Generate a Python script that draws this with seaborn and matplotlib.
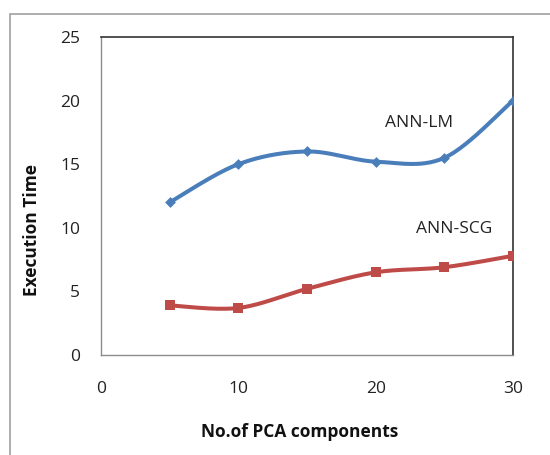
import numpy as np
import pandas as pd
import matplotlib
matplotlib.use("Agg")
import matplotlib.pyplot as plt
import seaborn as sns
from matplotlib.patches import Rectangle

sns.set_style("white")
plt.rcParams['font.family'] = ['Open Sans', 'DejaVu Sans']

components = [5, 10, 15, 20, 25, 30]
ann_lm = [12.0, 15.0, 16.0, 15.2, 15.5, 20.0]
ann_scg = [3.9, 3.7, 5.2, 6.5, 6.9, 7.8]
series_names = ["ANN-LM", "ANN-SCG"]
colors = ["#4A7EBB", "#BE4B48"]
x_ticks = [0, 10, 20, 30]
y_ticks = [0, 5, 10, 15, 20, 25]

df = pd.DataFrame({
    "components": components * 2,
    "time": ann_lm + ann_scg,
    "series": [series_names[0]] * len(components) + [series_names[1]] * len(components),
})


def smooth(xs, ys, n=30):
    xs = np.asarray(xs, float)
    ys = np.asarray(ys, float)
    px = np.concatenate([[xs[0]], xs, [xs[-1]]])
    py = np.concatenate([[ys[0]], ys, [ys[-1]]])
    ox, oy = [], []
    for i in range(1, len(px) - 2):
        p0, p1, p2, p3 = (np.array([px[j], py[j]]) for j in (i - 1, i, i + 1, i + 2))
        c1 = p1 + (p2 - p0) / 6.0
        c2 = p2 - (p3 - p1) / 6.0
        t = np.linspace(0, 1, n)[:, None]
        b = ((1 - t) ** 3) * p1 + 3 * ((1 - t) ** 2) * t * c1 + 3 * (1 - t) * t ** 2 * c2 + t ** 3 * p2
        ox.extend(b[:, 0]); oy.extend(b[:, 1])
    return np.array(ox), np.array(oy)


fig = plt.figure(figsize=(5.5, 4.55), dpi=100)
ax = fig.add_axes([101 / 550, 1 - 355 / 455, 412 / 550, 318 / 455])

for name, col, mk, ms in zip(series_names, colors, ["D", "s"], [5.5, 6.5]):
    sub = df[df.series == name]
    sx, sy = smooth(sub.components, sub.time)
    ax.plot(sx, sy, color=col, lw=2.9, solid_capstyle="round", zorder=2)
    sns.scatterplot(data=sub, x="components", y="time", color=col, marker=mk,
                    s=ms ** 2, edgecolor=col, linewidth=0, ax=ax, zorder=3, legend=False)

ax.set_xlim(0, 30)
ax.set_ylim(0, 25)
ax.set_xticks(x_ticks)
ax.set_yticks(y_ticks)
ax.tick_params(axis="both", which="both", direction="out", length=5, width=1,
               color="#8c8c8c", labelsize=12.5, labelcolor="#222222")
ax.tick_params(axis="y", pad=10)
ax.tick_params(axis="x", pad=14)

for s in ["left", "bottom"]:
    ax.spines[s].set_color("#8c8c8c")
    ax.spines[s].set_linewidth(1)
for s in ["top", "right"]:
    ax.spines[s].set_color("#333333")
    ax.spines[s].set_linewidth(1.2)

ax.set_xlabel("")
ax.set_ylabel("")
fig.text(300 / 550, 1 - 432 / 455, "No.of PCA components", fontsize=12.5,
         fontweight="bold", ha="center", va="center", color="#111111")
fig.text(32 / 550, 1 - 230 / 455, "Execution Time", fontsize=12.5, rotation=90,
         fontweight="bold", ha="center", va="center", color="#111111")

ax.text(23.16, 18.24, series_names[0], fontsize=12.5, ha="center", va="center", color="#222222")
ax.text(25.7, 9.9, series_names[1], fontsize=12.5, ha="center", va="center", color="#222222")

fig.patches.append(Rectangle((10 / 550, -0.1), 1.2, 1 - 14 / 455 + 0.1,
                             transform=fig.transFigure, fill=False,
                             edgecolor="#a0a0a0", linewidth=1.2, clip_on=False))

fig.savefig("out.png", dpi=100)
